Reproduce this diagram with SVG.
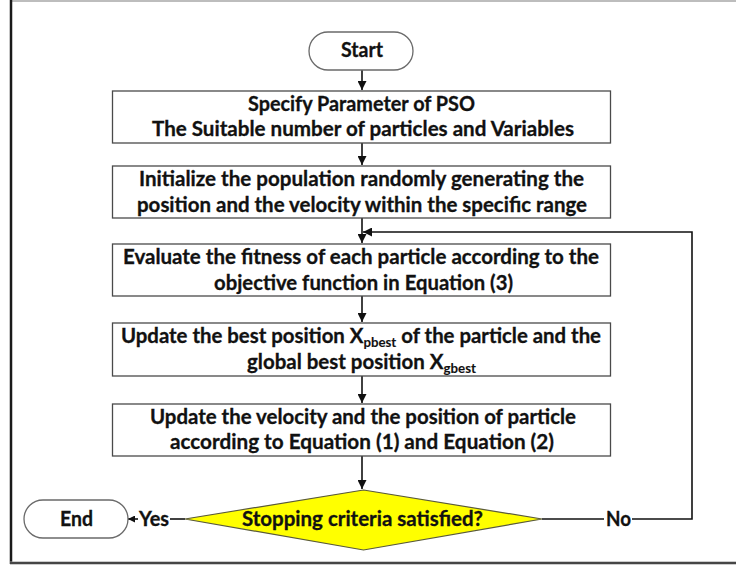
<svg xmlns="http://www.w3.org/2000/svg" width="736" height="568" viewBox="0 0 736 568">
  <style>
    .box { fill: #ffffff; stroke: #4a4a4a; stroke-width: 1.3; }
    .term { fill: #ffffff; stroke: #6a6a6a; stroke-width: 1.3; }
    .dec { fill: #ffff00; stroke: #5a5a3a; stroke-width: 1.2; }
    .lbl { font-family: Lato, "Noto Sans", "Liberation Sans", sans-serif; font-weight: bold; font-size: 20px; fill: #111111; stroke: #111111; stroke-width: 0.3; text-anchor: middle; }
    .sub { font-size: 13px; stroke-width: 0.1; }
    .edge { fill: none; stroke: #111111; stroke-width: 1.6; }
  </style>
  <defs>
    <marker id="arrow" viewBox="0 0 10 10" refX="10" refY="5" markerWidth="9" markerHeight="9" markerUnits="userSpaceOnUse" orient="auto">
      <path d="M0,0 L10,5 L0,10 z" fill="#111111"/>
    </marker>
    <marker id="arrowSmall" viewBox="0 0 10 10" refX="10" refY="5" markerWidth="7" markerHeight="7" markerUnits="userSpaceOnUse" orient="auto">
      <path d="M0,0 L10,5 L0,10 z" fill="#111111"/>
    </marker>
  </defs>

  <rect width="736" height="568" fill="#ffffff"/>

  <!-- page frame -->
  <g id="frame">
    <line x1="11" y1="1" x2="736" y2="1" stroke="#bdbdbd" stroke-width="2"/>
    <line x1="11" y1="0" x2="11" y2="564" stroke="#1a1a1a" stroke-width="2.5"/>
    <line x1="10" y1="563" x2="736" y2="563" stroke="#9a9a9a" stroke-width="3"/>
    <line x1="10" y1="563" x2="736" y2="563" stroke="#2a2a2a" stroke-width="1.3"/>
  </g>

  <!-- connectors -->
  <g id="connectors">
    <path class="edge" d="M362,70 V90" marker-end="url(#arrow)"/>
    <path class="edge" d="M362,143 V165" marker-end="url(#arrow)"/>
    <path class="edge" d="M362,218 V243" marker-end="url(#arrow)"/>
    <path class="edge" d="M362,296 V322" marker-end="url(#arrow)"/>
    <path class="edge" d="M362,376 V403" marker-end="url(#arrow)"/>
    <path class="edge" d="M362,456 V489" marker-end="url(#arrow)"/>
    <!-- No branch loops back above the evaluation step -->
    <path class="edge" d="M542,519 H604"/>
    <path class="edge" d="M632,519 H692 V232 H363" marker-end="url(#arrow)"/>
    <!-- Yes branch to End -->
    <path class="edge" d="M185,519 H170"/>
    <path class="edge" d="M138,519 H128" marker-end="url(#arrowSmall)"/>
    <text class="lbl" x="154" y="526" textLength="30" lengthAdjust="spacingAndGlyphs">Yes</text>
    <text class="lbl" x="618.5" y="526" textLength="25" lengthAdjust="spacingAndGlyphs">No</text>
  </g>

  <g id="start">
    <rect class="term" x="309" y="32" width="104" height="38" rx="19" ry="19"/>
    <text class="lbl" x="362" y="57" textLength="42" lengthAdjust="spacingAndGlyphs">Start</text>
  </g>

  <g id="specify">
    <rect class="box" x="112.5" y="91" width="498" height="52"/>
    <text class="lbl" x="361.5" y="110.5" textLength="227" lengthAdjust="spacingAndGlyphs">Specify Parameter of PSO</text>
    <text class="lbl" x="363" y="136" textLength="422" lengthAdjust="spacingAndGlyphs">The Suitable number of particles and Variables</text>
  </g>

  <g id="initialize">
    <rect class="box" x="112.5" y="166" width="498" height="52"/>
    <text class="lbl" x="361.5" y="185.5" textLength="445" lengthAdjust="spacingAndGlyphs">Initialize the population randomly generating the</text>
    <text class="lbl" x="362" y="211.5" textLength="450" lengthAdjust="spacingAndGlyphs">position and the velocity within the specific range</text>
  </g>

  <g id="evaluate">
    <rect class="box" x="112.5" y="244" width="498" height="52"/>
    <text class="lbl" x="361" y="263.5" textLength="476" lengthAdjust="spacingAndGlyphs">Evaluate the fitness of each particle according to the</text>
    <text class="lbl" x="363.5" y="289.5" textLength="299" lengthAdjust="spacingAndGlyphs">objective function in Equation (3)</text>
  </g>

  <g id="update-best">
    <rect class="box" x="112.5" y="323" width="498" height="53"/>
    <text class="lbl" x="361" y="342.5" textLength="480" lengthAdjust="spacingAndGlyphs">Update the best position X<tspan class="sub" dy="4">pbest</tspan><tspan dy="-4"> of the particle and the</tspan></text>
    <text class="lbl" x="361.5" y="368.5" textLength="229" lengthAdjust="spacingAndGlyphs">global best position X<tspan class="sub" dy="4">gbest</tspan></text>
  </g>

  <g id="update-velocity">
    <rect class="box" x="112.5" y="404" width="498" height="52"/>
    <text class="lbl" x="363" y="423.5" textLength="426" lengthAdjust="spacingAndGlyphs">Update the velocity and the position of particle</text>
    <text class="lbl" x="362" y="449" textLength="384" lengthAdjust="spacingAndGlyphs">according to Equation (1) and Equation (2)</text>
  </g>

  <g id="stopping">
    <polygon class="dec" points="363.5,490 542,519 363.5,550 185,519"/>
    <text class="lbl" x="362.5" y="526" textLength="241" lengthAdjust="spacingAndGlyphs">Stopping criteria satisfied?</text>
  </g>

  <g id="end">
    <rect class="term" x="24" y="500" width="104" height="38" rx="19" ry="19"/>
    <text class="lbl" x="76.5" y="526" textLength="33" lengthAdjust="spacingAndGlyphs">End</text>
  </g>
</svg>
